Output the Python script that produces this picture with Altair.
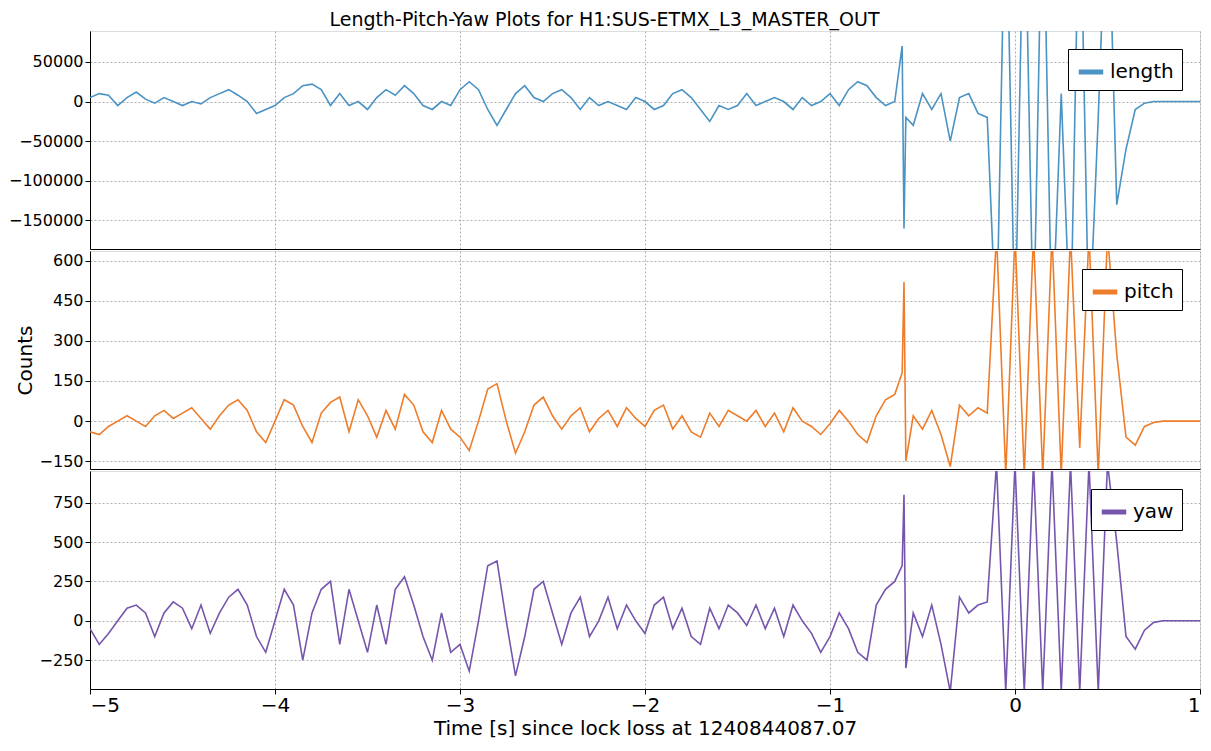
import altair as alt
import pandas as pd
import numpy as np

t_a = [round(-5.0 + 0.05 * i, 2) for i in range(88)]
t_spike = [-0.61, -0.60, -0.59]
t_b = [round(-0.55 + 0.05 * i, 2) for i in range(32)]
times = t_a + t_spike + t_b

length_k = [5,10,8,-5,5,12,3,-2,5,0,-5,0,-3,5,10,15,8,0,-15,-10,
    -5,5,10,20,22,15,-5,10,-5,0,-10,5,15,8,20,10,-5,-10,0,-5,
    15,25,15,-10,-30,-10,10,20,5,0,10,15,5,-10,5,-5,0,-5,-10,5,
    0,-10,-5,10,15,5,-10,-25,-5,-10,-5,10,-5,0,5,0,-10,5,-5,0,
    10,-5,15,25,20,5,-5,0,
    70,-160,-20,
    -30,10,-10,10,-50,5,10,-15,-20,
    -300,300,-300,300,-300,300,-300,10,-300,300,-300,-20,300,
    -130,-60,-10,-2,0,0,0,0,0,0]
pitch = [-40,-50,-20,0,20,0,-20,20,40,10,30,50,10,-30,20,60,80,40,-40,-80,
    0,80,60,-20,-80,30,70,90,-40,80,20,-60,40,-30,100,60,-40,-80,40,-30,
    -60,-110,0,120,140,0,-120,-40,60,90,20,-30,20,50,-40,10,40,-20,50,10,
    -20,40,60,-30,20,-40,-60,30,-20,40,20,0,40,-20,30,-40,50,0,-20,-50,
    -10,40,0,-50,-80,20,80,100,
    180,520,-150,
    20,-30,40,-50,-170,60,20,50,30,
    700,-200,700,-200,700,-200,700,-200,700,-100,700,-200,700,
    250,-60,-90,-20,-5,0,0,0,0,0]
yaw = [-50,-150,-80,0,80,100,50,-100,50,120,80,-50,100,-80,50,150,200,100,-100,-200,
    0,200,100,-250,50,200,250,-150,200,0,-200,100,-150,200,280,100,-100,-250,50,-200,
    -150,-320,0,350,380,0,-350,-100,200,250,50,-150,50,150,-100,0,150,-50,100,0,
    -80,100,150,-50,80,-100,-150,80,-50,100,50,-30,100,-50,80,-100,100,0,-80,-200,
    -100,50,-50,-200,-250,100,200,250,
    350,800,-300,
    50,-100,100,-150,-450,150,50,100,120,
    1000,-450,1000,-450,1000,-450,1000,-450,1000,-450,1000,-450,1000,
    500,-100,-180,-60,-10,0,0,0,0,0]

W, H = 1110, 218
grid = dict(gridDash=[2, 2], gridColor="#b0b0b0", tickColor="black", domainColor="black",
            labelFontSize=16, labelColor="black", titleFontSize=20, titleColor="black",
            titleFontWeight="normal", labelFont="DejaVu Sans", titleFont="DejaVu Sans")

def panel(vals, name, color, dom, ticks, last=False, ytitle=None):
    df = pd.DataFrame({"t": times, "v": vals, "s": name})
    xaxis = alt.Axis(values=[-5, -4, -3, -2, -1, 0, 1], labels=last, ticks=last,
                     title="Time [s] since lock loss at 1240844087.07" if last else None,
                     labelFontSize=20, titlePadding=3, labelPadding=1,
                     labelExpr="replace(format(datum.value,'d'),'-','−')",
                     **{k: v for k, v in grid.items() if k != "labelFontSize"})
    yaxis = alt.Axis(values=ticks, title=ytitle, labelExpr="replace(format(datum.value,'d'),'-','−')", **grid)
    return alt.Chart(df).mark_line(strokeWidth=1.6, clip=True).encode(
        x=alt.X("t:Q", scale=alt.Scale(domain=[-5, 1], nice=False), axis=xaxis),
        y=alt.Y("v:Q", scale=alt.Scale(domain=dom, nice=False, zero=False), axis=yaxis),
        color=alt.Color("s:N", scale=alt.Scale(domain=[name], range=[color]),
                        legend=alt.Legend(title=None, orient="top-right", symbolType="stroke",
                                          symbolStrokeWidth=5, symbolSize=600, labelFontSize=20,
                                          strokeColor="black", fillColor="white", padding=8,
                                          labelFont="DejaVu Sans", labelColor="black")),
    ).properties(width=W, height=H)

top = panel([v * 1000 for v in length_k], "length", "#4a93c3", [-186000, 89000],
            [-150000, -100000, -50000, 0, 50000])
mid = panel(pitch, "pitch", "#ee7d2b", [-179, 636], [-150, 0, 150, 300, 450, 600], ytitle="Counts")
bot = panel(yaw, "yaw", "#7656ad", [-433, 951], [-250, 0, 250, 500, 750], last=True)

chart = alt.vconcat(top, mid, bot, spacing=0).resolve_scale(color="independent").properties(
    title=alt.TitleParams("Length-Pitch-Yaw Plots for H1:SUS-ETMX_L3_MASTER_OUT", fontSize=19,
                          font="DejaVu Sans", fontWeight="normal", offset=1, anchor="middle")
).configure_view(stroke="black", strokeWidth=1).configure(padding={"top": 2, "left": 0, "right": 0, "bottom": 0})

chart.save("out.html", embed_options={"renderer": "svg", "actions": False})
